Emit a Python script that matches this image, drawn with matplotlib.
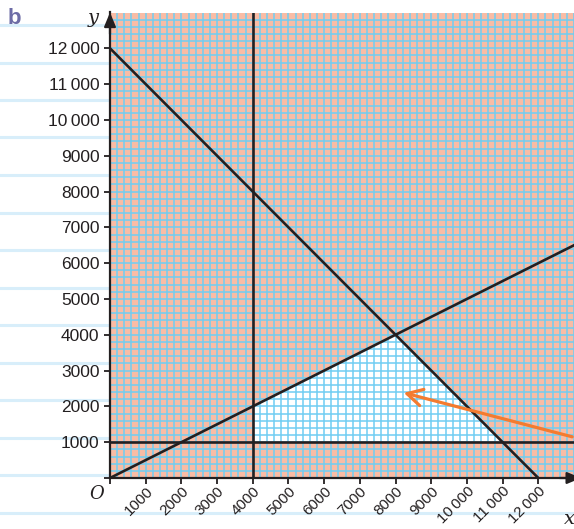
import matplotlib
matplotlib.use("Agg")
from matplotlib import pyplot as plt
from matplotlib.lines import Line2D

# data
ticks = [1000*i for i in range(1, 13)]
tick_labels = ["1000", "2000", "3000", "4000", "5000", "6000", "7000", "8000",
               "9000", "10\u2009000", "11\u2009000", "12\u2009000"]
region_x = [4000, 4000, 8000, 11000]
region_y = [1000, 2000, 4000, 1000]
vline_x = 4000
hline_y = 1000
line1_x = [0, 12000]       # x + y = 12000
line1_y = [12000, 0]
line2_x = [0, 13000]       # y = x/2
line2_y = [0, 6500]
arrow_tail = (12950, 1150)
arrow_head = (8230, 2380)

plt.rcParams["font.family"] = ["Liberation Sans", "DejaVu Sans"]

ink = "#231f20"
salmon = "#f9bca5"
gridc = "#6fcdf2"

fig = plt.figure(figsize=(5.74, 5.29), dpi=100)

# notebook lines in the margin
for k in range(14):
    yp = 25 + 37.5*k
    fig.add_artist(Line2D([0, 1], [1 - yp/529, 1 - yp/529], color="#d8eefa",
                          lw=2.2, zorder=-1, transform=fig.transFigure))

ax = fig.add_axes([110/574, 51/529, 464/574, 465.5/529])
ax.set_facecolor(salmon)
ax.set_xlim(0, 12950)
ax.set_ylim(0, 13000)

ax.set_xticks([0] + ticks)
ax.set_xticklabels([""] + tick_labels, rotation=45, ha="right", va="top",
                   rotation_mode="anchor", fontsize=11, color=ink)
ax.set_yticks([0] + ticks)
ax.set_yticklabels([""] + tick_labels, fontsize=12.5, color=ink)
ax.set_xticks(range(0, 13001, 200), minor=True)
ax.set_yticks(range(0, 13001, 200), minor=True)
ax.tick_params(which="major", direction="out", length=4, width=1.3, color=ink, pad=3.5)
ax.tick_params(axis="x", which="major", pad=0.5)
ax.tick_params(which="minor", length=0)
ax.grid(which="both", color=gridc, lw=1.1)
ax.set_axisbelow(True)

for s in ["top", "right"]:
    ax.spines[s].set_visible(False)
for s in ["left", "bottom"]:
    ax.spines[s].set_color(ink)
    ax.spines[s].set_linewidth(1.6)

# feasible region
ax.fill(region_x, region_y, color="white", zorder=0.2, lw=0)

ax.axvline(vline_x, color=ink, lw=1.9)
ax.axhline(hline_y, color=ink, lw=1.9)
ax.plot(line1_x, line1_y, color=ink, lw=1.9)
ax.plot(line2_x, line2_y, color=ink, lw=1.9)

ax.annotate("", xy=arrow_head, xytext=arrow_tail, annotation_clip=False,
            arrowprops=dict(arrowstyle="->,head_length=0.55,head_width=0.3",
                            color="#f47b2f", lw=2.3, mutation_scale=20,
                            shrinkA=0, shrinkB=0))

# axis arrows
ax.annotate("", xy=(0, 13000), xytext=(0, 12400), annotation_clip=False,
            arrowprops=dict(arrowstyle="-|>,head_length=0.6,head_width=0.25",
                            color=ink, lw=1.6, mutation_scale=14, shrinkA=0, shrinkB=0))
ax.annotate("", xy=(13200, 0), xytext=(12600, 0), annotation_clip=False,
            arrowprops=dict(arrowstyle="-|>,head_length=0.6,head_width=0.25",
                            color=ink, lw=1.6, mutation_scale=14, shrinkA=0, shrinkB=0))

fig.text(93/574, 1 - 18/529, "y", fontsize=14, style="italic", family="DejaVu Serif",
         color=ink, ha="center", va="center")
fig.text(569/574, 1 - 519/529, "x", fontsize=14, style="italic", family="DejaVu Serif",
         color=ink, ha="center", va="center")
fig.text(97/574, 1 - 494/529, "O", fontsize=13, style="italic", family="DejaVu Serif",
         color=ink, ha="center", va="center")
fig.text(14/574, 1 - 18/529, "b", fontsize=16, fontweight="bold", color="#6d6ca6",
         ha="center", va="center")

fig.savefig("out.png", dpi=100)
